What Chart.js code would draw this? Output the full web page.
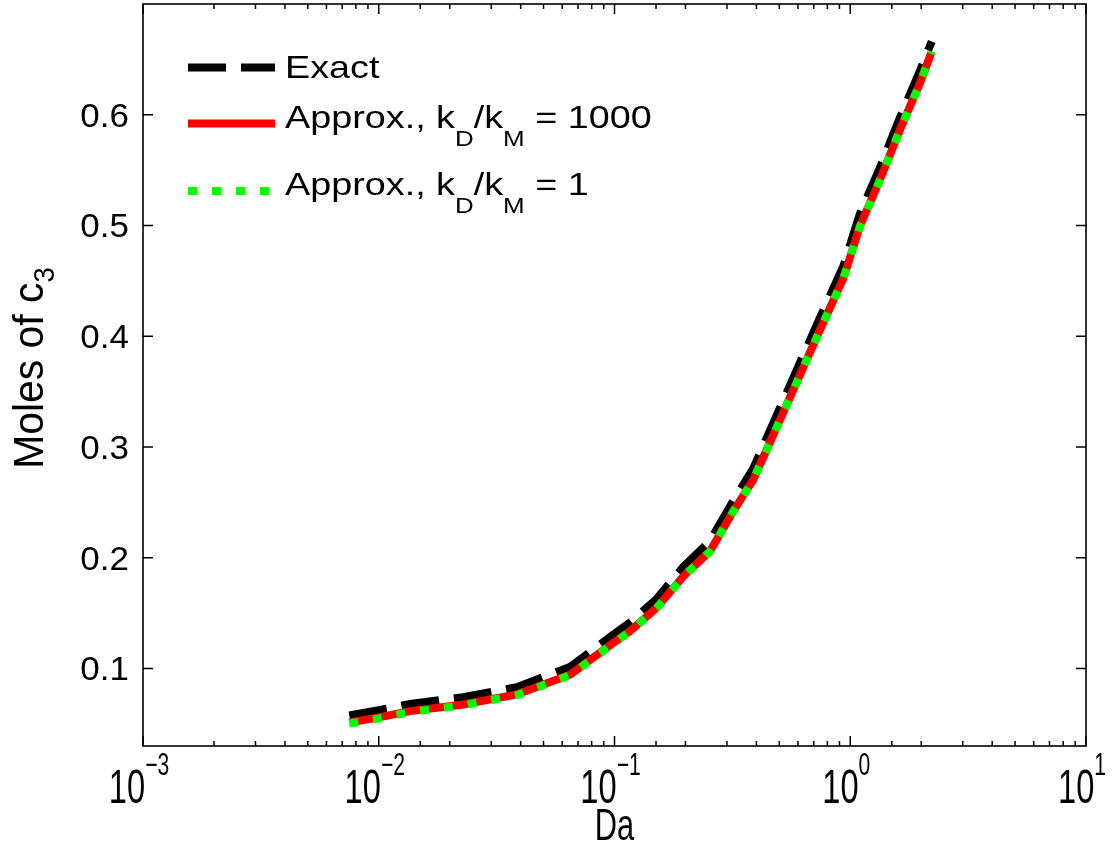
<!DOCTYPE html>
<html>
<head>
<meta charset="utf-8">
<script src="https://cdn.jsdelivr.net/npm/chart.js@4.4.1/dist/chart.umd.min.js"></script>
<style>
  html, body { margin: 0; padding: 0; background: #fff; }
  #plot { display: block; }
</style>
</head>
<body>
<canvas id="plot" width="1116" height="850"></canvas>
<script>
// Damköhler numbers shared by the three curves
const da = [0.0075, 0.01, 0.0136, 0.0228, 0.0385, 0.065, 0.099, 0.116, 0.151, 0.196, 0.254,
            0.319, 0.388, 0.442, 0.574, 0.744, 0.934, 1.099, 1.337, 1.625, 1.976, 2.216]

// moles of c3
const exact      = [0.0577, 0.0623, 0.0680, 0.0740, 0.0830, 0.1016, 0.1307, 0.1413, 0.1628, 0.1918, 0.2149,
                    0.2515, 0.2806, 0.3080, 0.3627, 0.4168, 0.4630, 0.5104, 0.5523, 0.5975, 0.6396, 0.6661]
const approx1000 = [0.0512, 0.0558, 0.0615, 0.0675, 0.0765, 0.0946, 0.1232, 0.1336, 0.1548, 0.1833, 0.2059,
                    0.2420, 0.2706, 0.2975, 0.3517, 0.4058, 0.4520, 0.4994, 0.5413, 0.5865, 0.6286, 0.6571]
const approx1    = [0.0502, 0.0549, 0.0607, 0.0668, 0.0759, 0.0941, 0.1228, 0.1333, 0.1546, 0.1831, 0.2057,
                    0.2418, 0.2704, 0.2973, 0.3515, 0.4056, 0.4518, 0.4992, 0.5411, 0.5863, 0.6284, 0.6569]

const xTickValues = [1e-3, 1e-2, 1e-1, 1e0, 1e1]
const xTickExps   = ["\u22123", "\u22122", "\u22121", "0", "1"]
const yTickValues = [0.1, 0.2, 0.3, 0.4, 0.5, 0.6]
const yTickLabels = ["0.1", "0.2", "0.3", "0.4", "0.5", "0.6"]

const FONT = '"Liberation Sans", Arial, Helvetica, sans-serif'

const pts = ys => da.map((x, i) => ({ x, y: ys[i] }))

// draws runs of text, each {t, size, dy}, with a horizontal squeeze sx
function richText(ctx, runs, x, y, sx, align) {
  ctx.save()
  ctx.translate(x, y)
  ctx.scale(sx, 1)
  let w = 0
  runs.forEach(r => { ctx.font = r.size + "px " + FONT; w += ctx.measureText(r.t).width })
  let cx = align === "center" ? -w / 2 : align === "right" ? -w : 0
  ctx.textAlign = "left"
  ctx.textBaseline = "alphabetic"
  runs.forEach(r => {
    ctx.font = r.size + "px " + FONT
    ctx.fillText(r.t, cx, r.dy || 0)
    cx += ctx.measureText(r.t).width
  })
  ctx.restore()
}

const matlabAxes = {
  id: "matlabAxes",
  afterDraw(chart) {
    const { ctx, chartArea: a, scales: { x, y } } = chart
    ctx.save()
    ctx.fillStyle = "#000"
    ctx.strokeStyle = "#000"

    // box
    ctx.lineWidth = 1.6
    ctx.strokeRect(a.left, a.top, a.right - a.left, a.bottom - a.top)

    // inward ticks on all four sides
    ctx.lineWidth = 1.5
    ctx.beginPath()
    x.ticks.forEach(t => {
      const lg = Math.log10(t.value)
      const major = Math.abs(lg - Math.round(lg)) < 1e-6
      const len = major ? 10 : 5
      const px = x.getPixelForValue(t.value)
      ctx.moveTo(px, a.bottom); ctx.lineTo(px, a.bottom - len)
      ctx.moveTo(px, a.top);    ctx.lineTo(px, a.top + len)
    })
    yTickValues.forEach(v => {
      const py = y.getPixelForValue(v)
      ctx.moveTo(a.left, py);  ctx.lineTo(a.left + 10, py)
      ctx.moveTo(a.right, py); ctx.lineTo(a.right - 10, py)
    })
    ctx.stroke()

    // y tick labels
    yTickValues.forEach((v, i) => {
      const py = y.getPixelForValue(v) + 12
      richText(ctx, [{ t: yTickLabels[i], size: 33 }], a.left - 14, py, 1.06, "right")
    })

    // x tick labels, 10 with exponent
    xTickValues.forEach((v, i) => {
      const px = x.getPixelForValue(v)
      richText(ctx, [{ t: "10", size: 48 }, { t: xTickExps[i], size: 31, dy: -28 }], px - 4, a.bottom + 57, 0.68, "center")
    })

    // axis titles
    richText(ctx, [{ t: "Da", size: 44 }], (a.left + a.right) / 2, a.bottom + 94, 0.7, "center")
    ctx.save()
    ctx.translate(43, 368)
    ctx.rotate(-Math.PI / 2)
    richText(ctx, [{ t: "Moles of c", size: 43 }, { t: "3", size: 29, dy: 11 }], 0, 0, 0.95, "center")
    ctx.restore()

    // legend
    const rows = [
      { ds: 0, ly: 67.5, by: 78,  runs: [{ t: "Exact", size: 32 }] },
      { ds: 1, ly: 123.5, by: 128, runs: [{ t: "Approx., k", size: 32 }, { t: "D", size: 22, dy: 18 }, { t: "/k", size: 32 },
                                        { t: "M", size: 22, dy: 18 }, { t: " = 1000", size: 32 }] },
      { ds: 2, ly: 191, by: 195, runs: [{ t: "Approx., k", size: 32 }, { t: "D", size: 22, dy: 18 }, { t: "/k", size: 32 },
                                       { t: "M", size: 22, dy: 18 }, { t: " = 1", size: 32 }] }
    ]
    rows.forEach(r => {
      const d = chart.data.datasets[r.ds]
      ctx.save()
      ctx.strokeStyle = d.borderColor
      ctx.lineWidth = d.borderWidth
      ctx.setLineDash(d.borderDash || [])
      ctx.lineCap = "butt"
      ctx.beginPath()
      ctx.moveTo(188, r.ly); ctx.lineTo(275, r.ly)
      ctx.stroke()
      ctx.restore()
      richText(ctx, r.runs, 285, r.by, 1.18, "left")
    })
    ctx.restore()
  }
}

new Chart(document.getElementById("plot"), {
  type: "line",
  data: {
    datasets: [
      { label: "Exact", data: pts(exact), borderColor: "#000000", borderWidth: 8,
        borderDash: [38, 15], pointRadius: 0, tension: 0, fill: false, order: 2 },
      { label: "Approx., kD/kM = 1000", data: pts(approx1000), borderColor: "#ff0000", borderWidth: 8,
        pointRadius: 0, tension: 0, fill: false, order: 1 },
      { label: "Approx., kD/kM = 1", data: pts(approx1), borderColor: "#00ff00", borderWidth: 8,
        borderDash: [9, 15], pointRadius: 0, tension: 0, fill: false, order: 0 }
    ]
  },
  options: {
    responsive: false,
    devicePixelRatio: 1,
    animation: false,
    layout: { padding: { top: 4, right: 30, left: 0, bottom: 0 } },
    plugins: { legend: { display: false }, tooltip: { enabled: false } },
    scales: {
      x: {
        type: "logarithmic", min: 1e-3, max: 10,
        ticks: { display: false },
        grid: { display: false, drawTicks: false },
        border: { display: false },
        afterFit: s => { s.height = 104 }
      },
      y: {
        type: "linear", min: 0.03, max: 0.7,
        afterBuildTicks: s => { s.ticks = yTickValues.map(value => ({ value })) },
        ticks: { display: false },
        grid: { display: false, drawTicks: false },
        border: { display: false },
        afterFit: s => { s.width = 143 }
      }
    }
  },
  plugins: [matlabAxes]
})
</script>
</body>
</html>
